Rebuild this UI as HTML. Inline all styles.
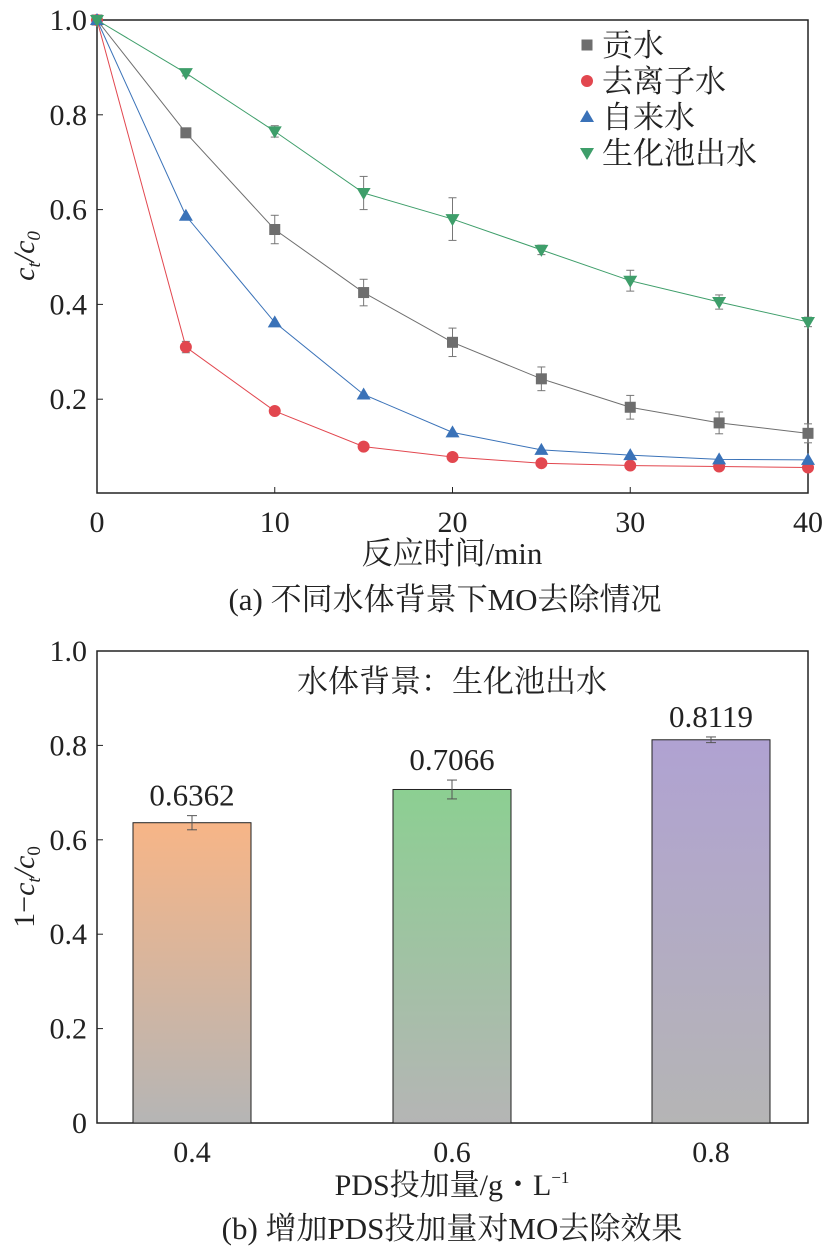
<!DOCTYPE html>
<html><head><meta charset="utf-8"><style>
body{margin:0;background:#fff;}
svg text{font-family:"Liberation Serif","Noto Serif CJK SC",serif;fill:#222;}
</style></head><body>
<svg id="s" width="828" height="1253" viewBox="0 0 828 1253" xmlns="http://www.w3.org/2000/svg">
<defs>
<linearGradient id="g0" x1="0" y1="0" x2="0" y2="1"><stop offset="0" stop-color="#f7b587"/><stop offset="1" stop-color="#b5b5b5"/></linearGradient>
<linearGradient id="g1" x1="0" y1="0" x2="0" y2="1"><stop offset="0" stop-color="#8ccf92"/><stop offset="1" stop-color="#b5b5b5"/></linearGradient>
<linearGradient id="g2" x1="0" y1="0" x2="0" y2="1"><stop offset="0" stop-color="#b0a2d2"/><stop offset="1" stop-color="#b5b5b5"/></linearGradient>
</defs>
<g id="topg"></g><g id="botg"></g>
</svg>
<script>
const times=[0,5,10,15,20,25,30,35,40];
const gongshui=[1,0.762,0.558,0.425,0.32,0.243,0.183,0.15,0.128];
const gongshuiErr=[0,0.01,0.03,0.028,0.03,0.025,0.025,0.023,0.02];
const deion=[1,0.31,0.175,0.1,0.078,0.065,0.06,0.058,0.056];
const deionErr=[0,0.012,0,0,0,0,0,0,0];
const tap=[1,0.587,0.362,0.21,0.13,0.093,0.082,0.073,0.072];
const tapErr=[0,0,0,0,0,0,0,0,0];
const bio=[1,0.888,0.765,0.635,0.58,0.515,0.45,0.405,0.363];
const bioErr=[0,0.006,0.012,0.035,0.045,0.01,0.022,0.015,0.01];
const xTicks=[0,10,20,30,40];
const yTicks=[0.2,0.4,0.6,0.8,1.0];
const doses=["0.4","0.6","0.8"];
const removal=[0.6362,0.7066,0.8119];
const removalErr=[0.015,0.02,0.006];
const yTicks2=[0,0.2,0.4,0.6,0.8,1.0];
const NS="http://www.w3.org/2000/svg";
function mk(p,t,a,txt){const e=document.createElementNS(NS,t);for(const k in a)e.setAttribute(k,a[k]);if(txt!==undefined)e.textContent=txt;p.appendChild(e);return e;}
const gTop=document.getElementById('topg'),gBot=document.getElementById('botg');
const X=t=>97+t*(808-97)/40, Y=v=>494-v*(494-20);
let e=mk(gTop,'rect',{x:97,y:20,width:711,height:473,fill:'none',stroke:'#222','stroke-width':1.5});


xTicks.forEach(t=>{mk(gTop,'line',{x1:X(t),x2:X(t),y1:493,y2:487,stroke:'#222'});
 e=mk(gTop,'text',{x:X(t),y:532,'text-anchor':'middle','font-size':30},t);
 
 });
yTicks.forEach(v=>{mk(gTop,'line',{x1:97,x2:103,y1:Y(v),y2:Y(v),stroke:'#222'});
 e=mk(gTop,'text',{x:87,y:Y(v)+10,'text-anchor':'end','font-size':30},v.toFixed(1));
 
 });
e=mk(gTop,'text',{x:452,y:564,'text-anchor':'middle','font-size':31},'反应时间/min');


e=mk(gTop,'text',{transform:'translate(34,256) rotate(-90)','text-anchor':'middle','font-size':30,'font-style':'italic'});
e.innerHTML='c<tspan font-size="19" dy="6">t</tspan><tspan dy="-6">/c</tspan><tspan font-size="19" dy="6">0</tspan>';


e=mk(gTop,'text',{x:445,y:610,'text-anchor':'middle','font-size':31},'(a) 不同水体背景下MO去除情况');


const series=[[gongshui,gongshuiErr,'#6e6e6e','sq','贡水'],[deion,deionErr,'#e2474f','ci','去离子水'],[tap,tapErr,'#3a72b8','up','自来水'],[bio,bioErr,'#3e9e6a','dn','生化池出水']];
function marker(g,sh,x,y,c){
 if(sh=='sq')return mk(g,'rect',{x:x-5.5,y:y-5.5,width:11,height:11,fill:c});
 if(sh=='ci')return mk(g,'circle',{cx:x,cy:y,r:6,fill:c});
 if(sh=='up')return mk(g,'polygon',{points:`${x-7},${y+5} ${x+7},${y+5} ${x},${y-7}`,fill:c});
 return mk(g,'polygon',{points:`${x-7},${y-5} ${x+7},${y-5} ${x},${y+7}`,fill:c});}
series.forEach((s,si)=>{const [vals,errs,c,sh,name]=s;
 const g=mk(gTop,'g',{});
 
 
 mk(g,'polyline',{points:times.map((t,i)=>X(t)+','+Y(vals[i])).join(' '),fill:'none',stroke:c,'stroke-width':1});
 times.forEach((t,i)=>{if(errs[i]>0){const x=X(t);[['line',{x1:x,x2:x,y1:Y(vals[i]+errs[i]),y2:Y(vals[i]-errs[i])}],['line',{x1:x-4,x2:x+4,y1:Y(vals[i]+errs[i]),y2:Y(vals[i]+errs[i])}],['line',{x1:x-4,x2:x+4,y1:Y(vals[i]-errs[i]),y2:Y(vals[i]-errs[i])}]].forEach(a=>{a[1].stroke='#777';mk(g,a[0],a[1]);});}
  const m=marker(g,sh,X(t),Y(vals[i]),c);
  
  });
 const ly=45+si*36;const le=mk(gTop,'g',{});
 
 
 marker(le,sh,587,ly,c);mk(le,'text',{x:602,y:ly+11,'font-size':31},name);});
const Y2=v=>1123-v*(1123-651);const bx=[192,452,711];
e=mk(gBot,'rect',{x:97,y:651,width:711,height:472,fill:'none',stroke:'#222','stroke-width':1.5});


yTicks2.forEach(v=>{mk(gBot,'line',{x1:97,x2:103,y1:Y2(v),y2:Y2(v),stroke:'#222'});
 e=mk(gBot,'text',{x:87,y:Y2(v)+10,'text-anchor':'end','font-size':30},v==0?'0':v.toFixed(1));
 
 });
doses.forEach((d,i)=>{const x=bx[i],v=removal[i],er=removalErr[i];
 mk(gBot,'line',{x1:x,x2:x,y1:1123,y2:1117,stroke:'#222'});
 e=mk(gBot,'rect',{x:x-59,y:Y2(v),width:118,height:Y2(0)-Y2(v),fill:`url(#g${i})`,stroke:'#222','stroke-width':1});
 
 
 mk(gBot,'line',{x1:x,x2:x,y1:Y2(v+er),y2:Y2(v-er),stroke:'#555'});
 mk(gBot,'line',{x1:x-5,x2:x+5,y1:Y2(v+er),y2:Y2(v+er),stroke:'#555'});
 mk(gBot,'line',{x1:x-5,x2:x+5,y1:Y2(v-er),y2:Y2(v-er),stroke:'#555'});
 e=mk(gBot,'text',{x:x,y:Y2(v+er)-10,'text-anchor':'middle','font-size':31},v.toFixed(4));
 
 
 e=mk(gBot,'text',{x:x,y:1162,'text-anchor':'middle','font-size':30},d);
 
 });
e=mk(gBot,'text',{x:452,y:692,'text-anchor':'middle','font-size':31},'水体背景：生化池出水');


e=mk(gBot,'text',{x:452,y:1195,'text-anchor':'middle','font-size':30});
e.innerHTML='PDS投加量/g・L<tspan font-size="17" dy="-12">−1</tspan>';


e=mk(gBot,'text',{transform:'translate(34,887) rotate(-90)','text-anchor':'middle','font-size':30});
e.innerHTML='1−<tspan font-style="italic">c</tspan><tspan font-size="19" dy="6" font-style="italic">t</tspan><tspan dy="-6" font-style="italic">/c</tspan><tspan font-size="19" dy="6">0</tspan>';


e=mk(gBot,'text',{x:452,y:1239,'text-anchor':'middle','font-size':31},'(b) 增加PDS投加量对MO去除效果');


</script>
</body></html>
